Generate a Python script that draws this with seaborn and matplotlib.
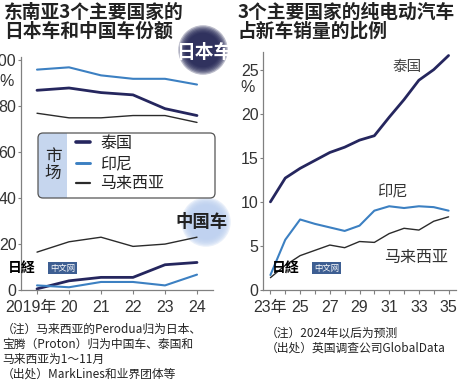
import matplotlib
matplotlib.use('Agg')
import matplotlib.pyplot as plt
import seaborn as sns
from matplotlib.patches import Circle, FancyBboxPatch, Rectangle
from matplotlib.lines import Line2D
from matplotlib.transforms import ScaledTranslation

# share of Japanese / Chinese cars in three SE Asian markets (%)
share_years = [2019, 2020, 2021, 2022, 2023, 2024]
share_labels = ['2019年', '20', '21', '22', '23', '24']
jp_thailand = [87, 88, 86, 85, 79, 76]
jp_indonesia = [96, 97, 93.5, 92, 92, 89.5]
jp_malaysia = [77, 75, 75, 76, 76, 73]
cn_thailand = [0.5, 4, 5.5, 5.5, 11, 12]
cn_indonesia = [2, 1.2, 3.5, 3.5, 2, 6.7]
cn_malaysia = [16.5, 21, 23, 19, 20, 23]
share_yticks = [0, 20, 40, 60, 80, 100]

# BEV share of new car sales (%)
ev_years = list(range(2023, 2036))
ev_labels = ['23年', '', '25', '', '27', '', '29', '', '31', '', '33', '', '35']
ev_thailand = [10, 12.7, 13.8, 14.7, 15.6, 16.2, 17, 17.5, 19.6, 21.6, 23.8, 25, 26.6]
ev_indonesia = [1.7, 5.7, 8.0, 7.5, 7.1, 6.7, 7.3, 9.0, 9.5, 9.3, 9.5, 9.4, 9.0]
ev_malaysia = [1.4, 2.8, 3.9, 4.5, 5.1, 4.8, 5.5, 5.4, 6.4, 7.0, 6.8, 7.8, 8.3]
ev_yticks = [0, 5, 10, 15, 20, 25]

markets = ['泰国', '印尼', '马来西亚']
colors = {'泰国': '#25265e', '印尼': '#3c80c2', '马来西亚': '#2b2b2b'}
widths = {'泰国': 2.0, '印尼': 1.5, '马来西亚': 1.0}

sns.set_style('ticks')
plt.rcParams['font.family'] = ['Noto Sans CJK SC', 'DejaVu Sans']
tick_font = ['Liberation Sans', 'Noto Sans CJK SC']
tick_size = 11.5

W, H = 460, 384
fig = plt.figure(figsize=(W / 100, H / 100), dpi=100)


def fx(x):
    return x / W


def fy(y):
    return 1 - y / H


def style_axis(ax):
    for s in ['top', 'right']:
        ax.spines[s].set_visible(False)
    for s in ['left', 'bottom']:
        ax.spines[s].set_color('#808080')
        ax.spines[s].set_linewidth(0.9)
    ax.tick_params(direction='out', length=2.5, width=0.8, color='#808080',
                   pad=0.8, labelcolor='#333333')
    ax.tick_params(axis='x', length=3, pad=4)
    for lbl in ax.get_xticklabels() + ax.get_yticklabels():
        lbl.set_fontfamily(tick_font)
        lbl.set_fontsize(tick_size)
    ax.patch.set_visible(False)
    ax.set_zorder(1)


# left chart
ax1 = fig.add_axes([fx(21), fy(290), fx(213) - fx(21), fy(57) - fy(290)])
for name, jp, cn in zip(markets, [jp_thailand, jp_indonesia, jp_malaysia],
                        [cn_thailand, cn_indonesia, cn_malaysia]):
    sns.lineplot(x=share_years, y=jp, color=colors[name], linewidth=widths[name], ax=ax1)
    sns.lineplot(x=share_years, y=cn, color=colors[name], linewidth=widths[name], ax=ax1)
ax1.set_xlim(2018.5, 2024.5)
ax1.set_ylim(0, 101.5)
ax1.set_xticks(share_years, share_labels)
ax1.set_yticks(share_yticks, [str(v) for v in share_yticks])
style_axis(ax1)
# the first year label sits a little left of its tick
first = ax1.get_xticklabels()[0]
first.set_transform(first.get_transform() + ScaledTranslation(-6 / 100, 0, fig.dpi_scale_trans))

# right chart
ax2 = fig.add_axes([fx(263), fy(290), fx(456) - fx(263), fy(52) - fy(290)])
for name, vals in zip(markets, [ev_thailand, ev_indonesia, ev_malaysia]):
    sns.lineplot(x=ev_years, y=vals, color=colors[name], linewidth=widths[name], ax=ax2)
ax2.set_xlim(2022.5, 2035.5)
ax2.set_ylim(0, 27)
ax2.set_xticks(ev_years, ev_labels)
ax2.set_yticks(ev_yticks, [str(v) for v in ev_yticks])
style_axis(ax2)

# titles
fig.text(fx(4), fy(3), '东南亚3个主要国家的\n日本车和中国车份额', fontsize=13.5,
         fontweight='bold', color='#222222', va='top', ha='left', linespacing=1.0)
fig.text(fx(238), fy(3), '3个主要国家的纯电动汽车\n占新车销量的比例', fontsize=13.5,
         fontweight='bold', color='#222222', va='top', ha='left', linespacing=1.0)

# percent signs
for xp, yp in [(7, 81), (248, 88)]:
    fig.text(fx(xp), fy(yp), '%', fontsize=tick_size, family=tick_font,
             color='#333333', ha='center', va='center')


# soft circle badges
def soft_circle(cx, cy, r, color, z):
    for k in range(7):
        rr = r * (1.18 - k * 0.06)
        fig.add_artist(Circle((cx / 100, (H - cy) / 100), rr / 100, transform=fig.dpi_scale_trans,
                              facecolor=color, edgecolor='none', alpha=0.3, zorder=z))


soft_circle(203, 50, 21, '#1f2152', 5)
fig.text(fx(204), fy(52), '日本车', fontsize=13.5, fontweight='bold', color='white',
         ha='center', va='center', zorder=6)
soft_circle(206, 222, 21, '#bcd0f0', 0.5)
fig.text(fx(202), fy(222), '中国车', fontsize=12.5, fontweight='bold', color='#222222',
         ha='center', va='center', zorder=6)

# legend box
fig.add_artist(FancyBboxPatch((0.38, (H - 198) / 100), 1.77, 0.65, transform=fig.dpi_scale_trans,
                              boxstyle='round,pad=0,rounding_size=0.05', facecolor='#c6d6ee',
                              edgecolor='none', zorder=4))
fig.add_artist(Rectangle((0.67, (H - 198) / 100), 1.48, 0.65, transform=fig.dpi_scale_trans,
                         facecolor='white', edgecolor='none', zorder=4.1))
fig.add_artist(FancyBboxPatch((0.38, (H - 198) / 100), 1.77, 0.65, transform=fig.dpi_scale_trans,
                              boxstyle='round,pad=0,rounding_size=0.05', facecolor='none',
                              edgecolor='#555555', linewidth=0.9, zorder=4.2))
fig.text(fx(53), fy(165), '市\n场', fontsize=12, color='#222222', ha='center', va='center',
         linespacing=1.0, zorder=5)
handles = [Line2D([], [], color=colors[m], linewidth=widths[m] + 0.6) for m in markets]
leg = fig.legend(handles, markets, loc='upper left', bbox_to_anchor=(fx(76), fy(135)),
                 frameon=False, fontsize=11.5, borderpad=0, handlelength=0.9,
                 handletextpad=0.6, labelspacing=0.2, borderaxespad=0)
leg.set_zorder(6)
for t in leg.get_texts():
    t.set_color('#222222')

# right-chart labels
fig.text(fx(407), fy(67), '泰国', fontsize=10.5, color='#444444', ha='center', va='center')
fig.text(fx(392), fy(192), '印尼', fontsize=11, color='#333333', ha='center', va='center')
fig.text(fx(416), fy(257), '马来西亚', fontsize=11.5, color='#333333', ha='center', va='center')

# watermark
for x0 in [8, 272]:
    fig.text(fx(x0), fy(268), '日経', fontsize=10, fontweight='bold', color='black',
             ha='left', va='center', zorder=7)
    fig.text(fx(x0 + 42), fy(268), '中文网', fontsize=6, color='white', ha='left', va='center',
             zorder=7, bbox=dict(facecolor='#3d5e92', edgecolor='none', pad=1.2))

# notes
left_notes = ['（注）马来西亚的Perodua归为日本、', '宝腾（Proton）归为中国车、泰国和',
              '马来西亚为1～11月', '（出处）MarkLines和业界团体等']
for i, line in enumerate(left_notes):
    fig.text(fx(2), fy(329 + i * 15), line, fontsize=8.5, color='#222222', ha='left', va='center')
right_notes = ['（注）2024年以后为预测', '（出处）英国调查公司GlobalData']
for i, line in enumerate(right_notes):
    fig.text(fx(266), fy(333 + i * 15), line, fontsize=8.5, color='#222222', ha='left', va='center')

fig.savefig('out.png', dpi=100)
